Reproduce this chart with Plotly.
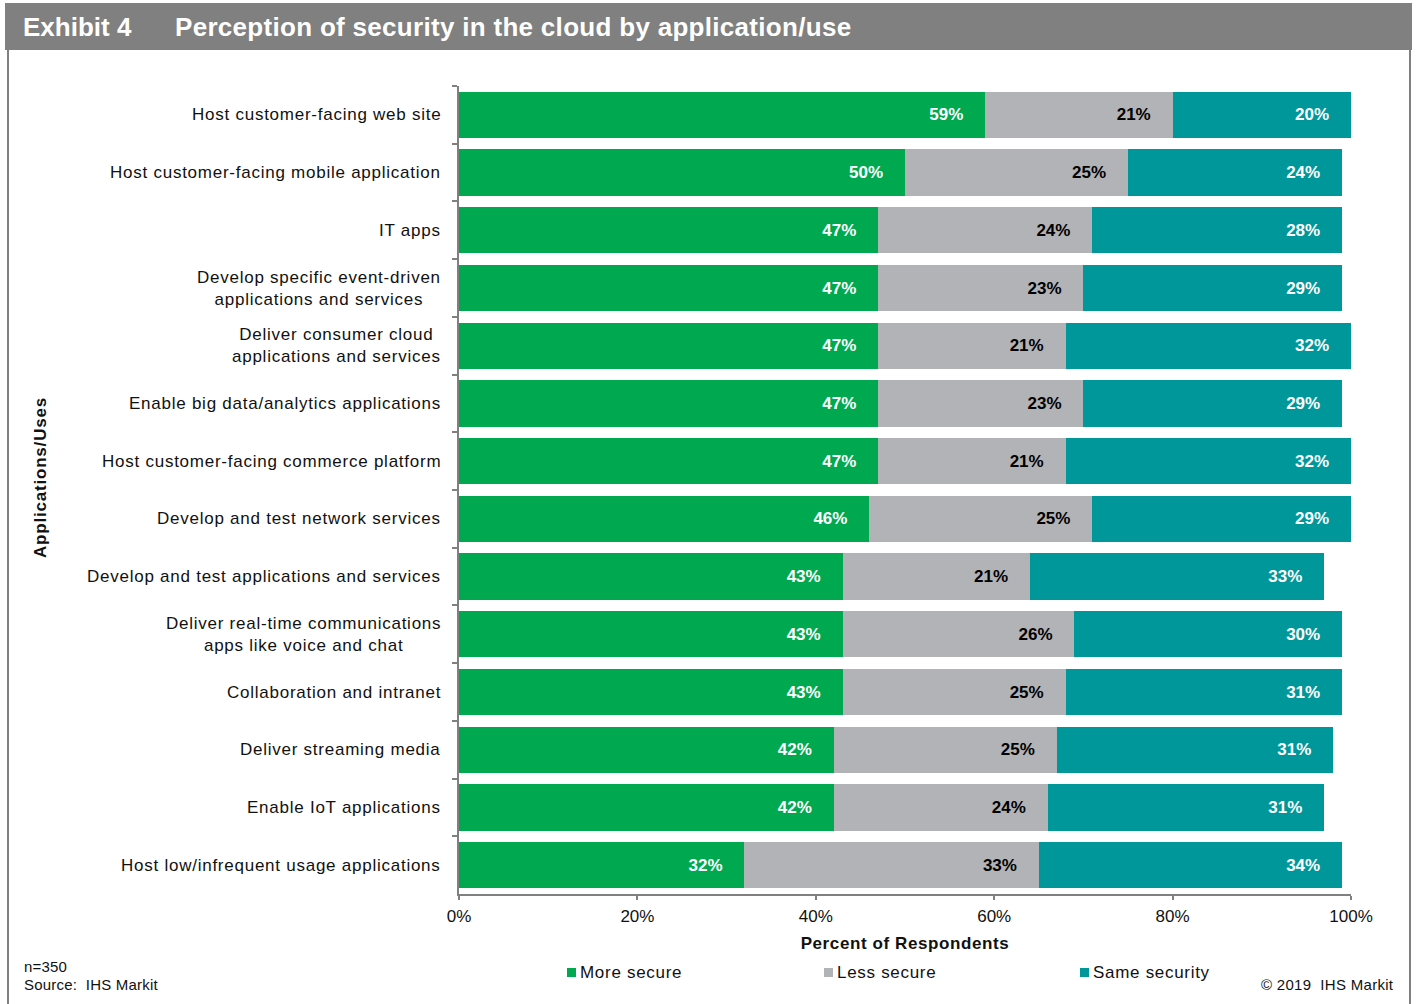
import plotly.graph_objects as go

# Survey results: share of respondents per application/use
categories = [
    "Host customer-facing web site",
    "Host customer-facing mobile application",
    "IT apps",
    "Develop specific event-driven<br>applications and services",
    "Deliver consumer cloud<br>applications and services",
    "Enable big data/analytics applications",
    "Host customer-facing commerce platform",
    "Develop and test network services",
    "Develop and test applications and services",
    "Deliver real-time communications<br>apps like voice and chat",
    "Collaboration and intranet",
    "Deliver streaming media",
    "Enable IoT applications",
    "Host low/infrequent usage applications",
]
more_secure = [59, 50, 47, 47, 47, 47, 47, 46, 43, 43, 43, 42, 42, 32]
less_secure = [21, 25, 24, 23, 21, 23, 21, 25, 21, 26, 25, 25, 24, 33]
same_security = [20, 24, 28, 29, 32, 29, 32, 29, 33, 30, 31, 31, 31, 34]

series_names = ["More secure", "Less secure", "Same security"]
series_values = [more_secure, less_secure, same_security]
series_colors = ["#00A94F", "#B2B3B7", "#00979A"]
label_colors = ["white", "black", "white"]

W, H = 1416, 1004
ML, MR, MT, MB = 459, 65, 86, 110
PW, PH = W - ML - MR, H - MT - MB
FONT = "Liberation Sans, Arial, sans-serif"
INK = "#111111"


def px_x(x):
    return (x - ML) / PW


def px_y(y):
    return (H - MB - y) / PH


def spaced(text, ls=0.8):
    return f'<span style="letter-spacing:{ls}px">{text}</span>'


pad = "\u00a0" * 4
fig = go.Figure()
for name, vals, color, tcolor in zip(series_names, series_values,
                                     series_colors, label_colors):
    fig.add_trace(go.Bar(
        y=categories, x=vals, name=name, orientation="h",
        marker=dict(color=color, line=dict(width=0)),
        text=[f"{v}%{pad}" for v in vals],
        textposition="inside", insidetextanchor="end",
        textfont=dict(family=FONT, size=17, color=tcolor, weight="bold"),
        hoverinfo="skip", showlegend=False,
    ))

# Category labels drawn as annotations so wrapped lines stay centred
for c in categories:
    lines = "<br>".join(spaced(s, 0.75) for s in c.split("<br>"))
    fig.add_annotation(
        x=px_x(443), xref="paper", y=c, yref="y", text=lines, showarrow=False,
        xanchor="right", align="center",
        font=dict(family=FONT, size=17, color=INK),
    )

fig.update_layout(
    width=W, height=H, barmode="stack", bargap=0.2,
    margin=dict(l=ML, r=MR, t=MT, b=MB, autoexpand=False),
    paper_bgcolor="white", plot_bgcolor="white",
    font=dict(family=FONT, size=17, color=INK),
    uniformtext=dict(minsize=17, mode="show"),
    showlegend=False,
    xaxis=dict(
        range=[0, 100], dtick=20, ticksuffix="%", showgrid=False,
        zeroline=False, showline=True, linecolor="#808080", linewidth=1.5,
        ticks="outside", ticklen=4, tickcolor="#808080", tickwidth=1.5,
        ticklabelstandoff=2,
        tickfont=dict(size=17, color=INK),
        title=dict(text="<b>" + spaced("Percent of Respondents", 0.6) + "</b>",
                   standoff=12, font=dict(size=17, color=INK)),
    ),
    yaxis=dict(
        autorange="reversed", showticklabels=False, showgrid=False,
        zeroline=False, showline=True, linecolor="#808080", linewidth=1.5,
        ticks="outside", tickson="boundaries", ticklen=5,
        tickcolor="#808080", tickwidth=1.5,
    ),
)

shapes = [
    # header band
    dict(type="rect", xref="paper", yref="paper", x0=px_x(5), x1=px_x(1412),
         y0=px_y(50), y1=px_y(3), fillcolor="#808080", line=dict(width=0),
         layer="below"),
    # frame sides
    dict(type="line", xref="paper", yref="paper", x0=px_x(8), x1=px_x(8),
         y0=px_y(50), y1=px_y(1004), line=dict(color="#808080", width=2)),
    dict(type="line", xref="paper", yref="paper", x0=px_x(1410), x1=px_x(1410),
         y0=px_y(50), y1=px_y(1004), line=dict(color="#808080", width=2)),
]

annotations = [
    dict(text="<b>Exhibit 4</b>", x=px_x(21), y=px_y(27), xanchor="left",
         yanchor="middle", font=dict(size=26, color="white")),
    dict(text="<b>" + spaced("Perception of security in the cloud by "
                             "application/use", 0.3) + "</b>",
         x=px_x(173), y=px_y(27), xanchor="left", yanchor="middle",
         font=dict(size=26, color="white")),
    dict(text="<b>" + spaced("Applications/Uses", 0.8) + "</b>", x=px_x(40),
         y=px_y(478), textangle=-90, xanchor="center", yanchor="middle",
         font=dict(size=17)),
    dict(text=spaced("n=350", 0.2), x=px_x(22), y=px_y(966), xanchor="left",
         yanchor="middle", font=dict(size=15)),
    dict(text=spaced("Source:  IHS Markit", 0.2), x=px_x(22), y=px_y(984),
         xanchor="left", yanchor="middle", font=dict(size=15)),
    dict(text=spaced("© 2019  IHS Markit", 0.3), x=px_x(1396), y=px_y(984),
         xanchor="right", yanchor="middle", font=dict(size=15)),
]

# Legend: coloured squares with their series names
legend_x = [567, 824, 1080]
for name, color, lx in zip(series_names, series_colors, legend_x):
    shapes.append(dict(type="rect", xref="paper", yref="paper",
                       x0=px_x(lx), x1=px_x(lx + 9), y0=px_y(977),
                       y1=px_y(968), fillcolor=color, line=dict(width=0)))
    annotations.append(dict(text=spaced(name, 0.7), x=px_x(lx + 11),
                            y=px_y(972), xanchor="left", yanchor="middle",
                            font=dict(size=17)))

for a in annotations:
    fig.add_annotation(xref="paper", yref="paper", showarrow=False, **a)
fig.update_layout(shapes=shapes)

fig.write_html("out.html")
